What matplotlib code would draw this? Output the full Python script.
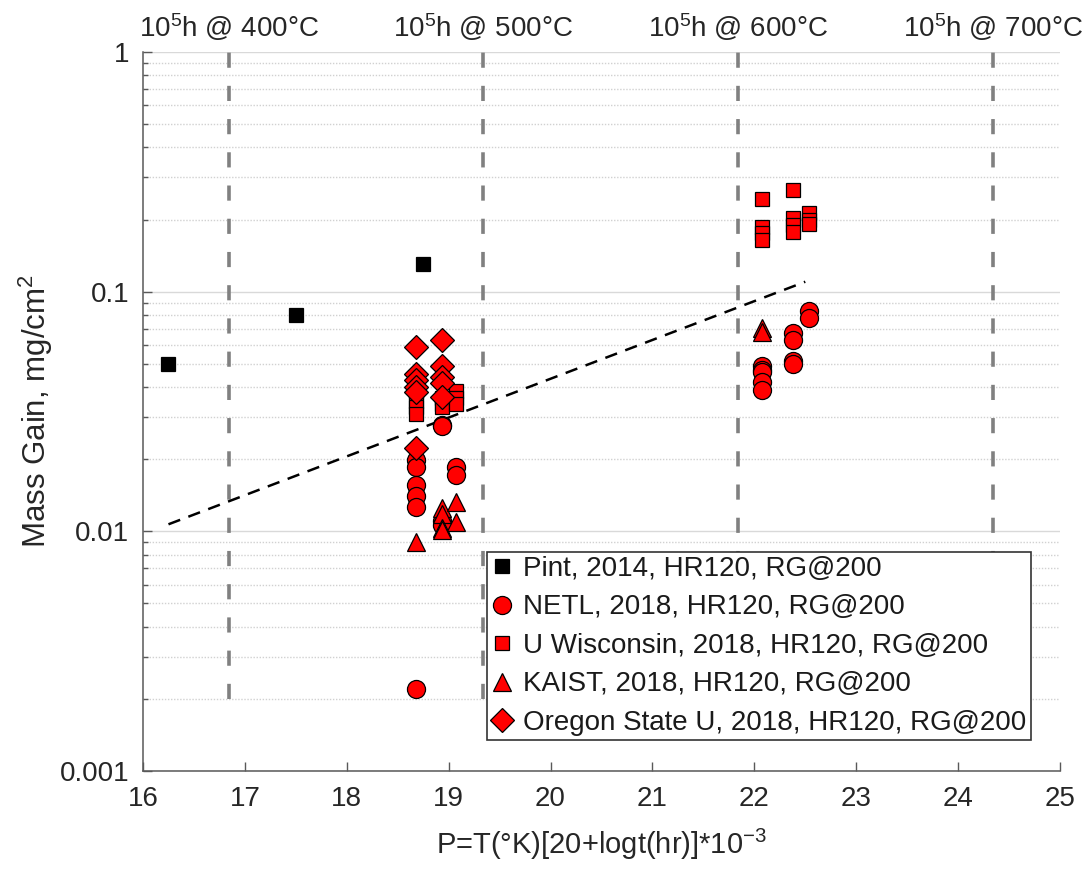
import matplotlib
matplotlib.use("Agg")
import matplotlib.pyplot as plt
import numpy as np
from matplotlib.ticker import FixedLocator, FuncFormatter, LogLocator, NullFormatter

# ---- data ----
pint_x = [16.25, 17.5, 18.75]
pint_y = [0.05, 0.08, 0.13]

netl_x = [18.68, 18.68, 18.68, 18.68, 18.68, 18.68,
          18.93, 18.93, 18.93, 18.93,
          19.07, 19.07,
          22.08, 22.08, 22.08, 22.08, 22.08,
          22.38, 22.38, 22.38, 22.38,
          22.54, 22.54]
netl_y = [0.0198, 0.0186, 0.0156, 0.0141, 0.0126, 0.0022,
          0.0278, 0.0275, 0.0110, 0.0106,
          0.0186, 0.0172,
          0.049, 0.047, 0.046, 0.042, 0.039,
          0.067, 0.063, 0.0514, 0.050,
          0.083, 0.078]

wisc_x = [18.68, 18.68, 18.68, 18.68,
          18.93, 18.93, 18.93,
          19.07, 19.07, 19.07,
          22.08, 22.08, 22.08, 22.08,
          22.38, 22.38, 22.38, 22.38,
          22.54, 22.54, 22.54]
wisc_y = [0.038, 0.035, 0.033, 0.031,
          0.036, 0.034, 0.033,
          0.0386, 0.036, 0.034,
          0.244, 0.186, 0.176, 0.164,
          0.265, 0.203, 0.190, 0.177,
          0.213, 0.200, 0.192]

kaist_x = [18.68, 18.93, 18.93, 18.93, 18.93, 19.07, 19.07, 22.08, 22.08]
kaist_y = [0.009, 0.0125, 0.0118, 0.0103, 0.0101, 0.0133, 0.0109, 0.0705, 0.068]

osu_x = [18.68, 18.68, 18.68, 18.68, 18.68, 18.68,
         18.93, 18.93, 18.93, 18.93, 18.93]
osu_y = [0.059, 0.0455, 0.043, 0.040, 0.038, 0.0223,
         0.063, 0.049, 0.044, 0.0415, 0.0365]

trend_x = [16.25, 22.5]
trend_y = [0.0107, 0.11]

ref_x = [16.84, 19.34, 21.84, 24.34]
ref_labels = ["400", "500", "600", "700"]
ref_ybottom = 0.002

legend_labels = [
    "Pint, 2014, HR120, RG@200",
    "NETL, 2018, HR120, RG@200",
    "U Wisconsin, 2018, HR120, RG@200",
    "KAIST, 2018, HR120, RG@200",
    "Oregon State U, 2018, HR120, RG@200",
]

# ---- style ----
plt.rcParams.update({
    "font.family": ["Liberation Sans", "DejaVu Sans"],
    "mathtext.fontset": "custom",
    "mathtext.rm": "Liberation Sans",
    "mathtext.it": "Liberation Sans:italic",
    "mathtext.bf": "Liberation Sans:bold",
})
axis_col = "0.15"

fig = plt.figure(figsize=(10.91, 8.69), dpi=100)
ax = fig.add_axes([143 / 1091, 1 - 771 / 869, 917 / 1091, 719 / 869])

for xv in ref_x:
    ax.plot([xv, xv], [ref_ybottom, 1], color="0.5", lw=2.6,
            dashes=(4.2, 5.0), zorder=1)

ax.plot(trend_x, trend_y, color="black", lw=1.8, dashes=(5, 3.5), zorder=2)

edge = dict(markeredgecolor="black", markeredgewidth=0.9, linestyle="none")
ax.plot(pint_x, pint_y, "s", color="black", ms=10, label=legend_labels[0],
        zorder=3, **edge)
ax.plot(netl_x, netl_y, "o", color="red", ms=13, label=legend_labels[1],
        zorder=3, **edge)
ax.plot(wisc_x, wisc_y, "s", color="red", ms=10, label=legend_labels[2],
        zorder=3, **edge)
ax.plot(kaist_x, kaist_y, "^", color="red", ms=13, label=legend_labels[3],
        zorder=3, **edge)
ax.plot(osu_x, osu_y, "D", color="red", ms=12, label=legend_labels[4],
        zorder=3, **edge)

ax.set_yscale("log")
ax.set_xlim(16, 25)
ax.set_ylim(0.001, 1)
ax.set_xticks(range(16, 26))
ax.yaxis.set_major_locator(FixedLocator([0.001, 0.01, 0.1, 1]))
ax.yaxis.set_major_formatter(FuncFormatter(lambda v, p: f"{v:g}"))
ax.yaxis.set_minor_locator(LogLocator(base=10, subs=np.arange(2, 10)))
ax.yaxis.set_minor_formatter(NullFormatter())

ax.grid(True, which="major", axis="y", color="0.85", lw=1.0, zorder=0)
ax.grid(True, which="minor", axis="y", color="0.82", lw=1.0,
        linestyle=(0, (1, 1.2)), zorder=0)
ax.set_axisbelow(True)

for side in ("top", "right"):
    ax.spines[side].set_visible(False)
for side in ("left", "bottom"):
    ax.spines[side].set_color("0.35")
    ax.spines[side].set_linewidth(1.1)
ax.tick_params(which="major", direction="in", length=6.5, width=1.0,
               colors="0.35", labelsize=20, labelcolor=axis_col)
ax.tick_params(axis="x", pad=11)
ax.tick_params(axis="y", pad=10)
ax.tick_params(which="minor", direction="in", length=3.5, width=1.0,
               colors="0.35")

ax.set_xlabel(r"P=T(°K)[20+logt(hr)]*10$^{-3}$", fontsize=21, color=axis_col)
ax.xaxis.set_label_coords(0.5, -0.078)
ax.set_ylabel(r"Mass Gain, mg/cm$^{2}$", fontsize=22.5, color=axis_col)
ax.yaxis.set_label_coords(-0.096, 0.5)

for xv, t in zip(ref_x, ref_labels):
    ax.annotate("10$^{5}$h @ " + t + "°C", xy=(xv, 1.0),
                xycoords=("data", "axes fraction"), xytext=(0, 11),
                textcoords="offset points", ha="center", va="baseline",
                fontsize=20, color=axis_col, annotation_clip=False)

leg = ax.legend(loc="lower right", bbox_to_anchor=(0.968, 0.043), fontsize=20,
                frameon=True, fancybox=False, framealpha=1, edgecolor="0.2",
                borderpad=0.15, labelspacing=0.45, handletextpad=0.35,
                handlelength=0.8, borderaxespad=0)
leg.get_frame().set_linewidth(1.2)
for t in leg.get_texts():
    t.set_color("0.1")

fig.savefig("out.png", dpi=100)
